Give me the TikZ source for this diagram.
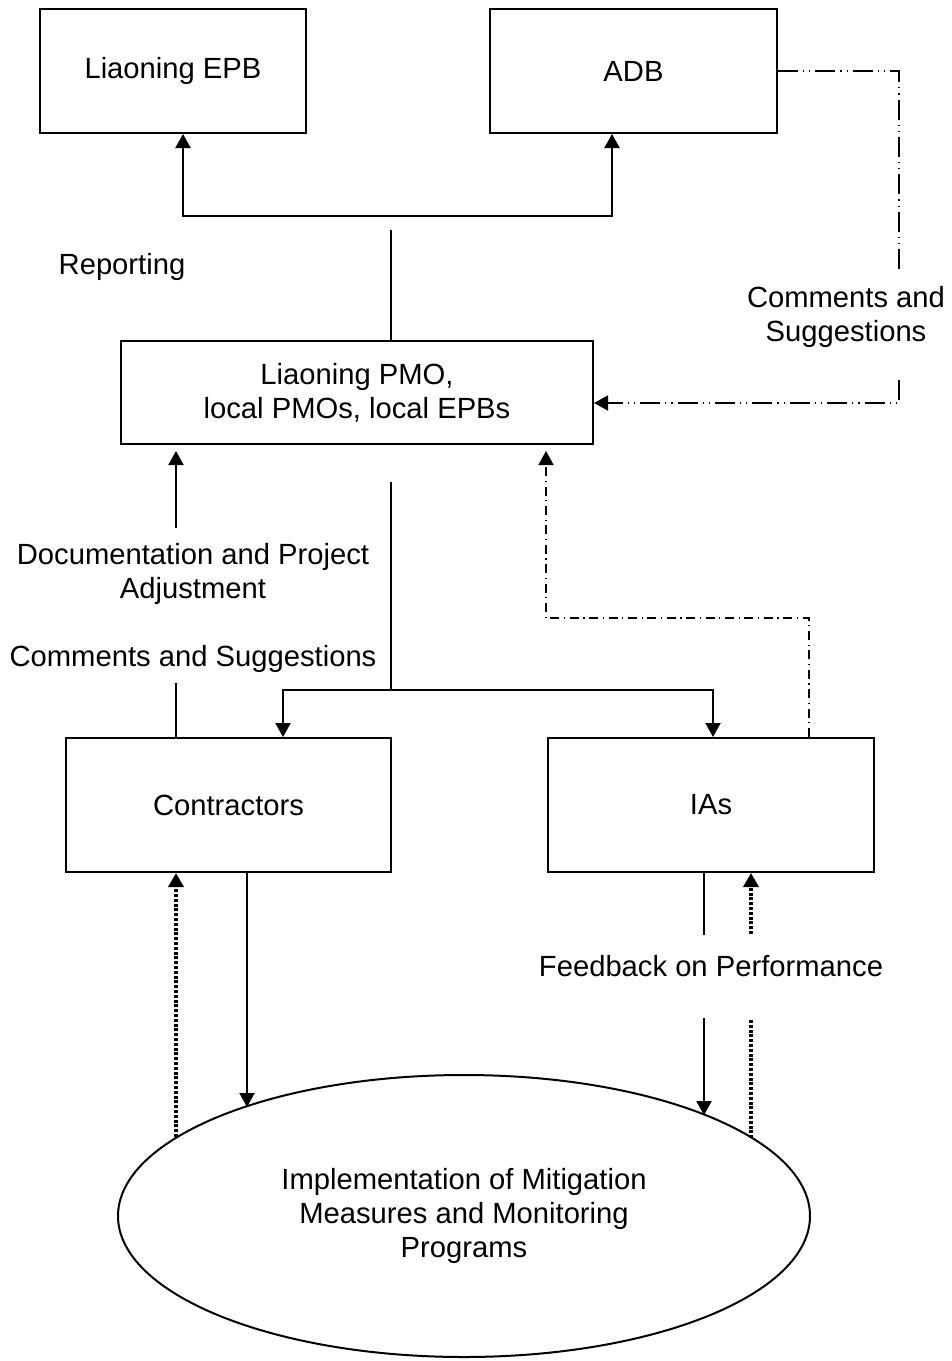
\documentclass[tikz,border=0pt]{standalone}
\usepackage{fontspec}
\setmainfont{Liberation Sans}
\usetikzlibrary{arrows.meta, shapes.geometric}

\begin{document}
\begin{tikzpicture}[x=0.5pt, y=-0.5pt, line width=1pt,
    every node/.style={font=\fontsize{14.6}{17}\selectfont, align=center, inner sep=0pt},
    box/.style={draw, minimum width=#1},
    arr/.style={-{Triangle[length=7pt, width=7.5pt]}},
    dashdotdot/.style={line width=0.8pt, dash pattern=on 10pt off 2.5pt on 0.6pt off 2.5pt on 0.6pt off 2.5pt},
    dashdotted/.style={line width=0.8pt, dash pattern=on 4.5pt off 2.3pt on 0.6pt off 2.3pt},
    thickdots/.style={line width=2.1pt, dash pattern=on 1.5pt off 0.9pt}]
    \useasboundingbox (0,0) rectangle (952,1361);

    % Boxes
    \node[box=133pt, minimum height=62pt] (epb) at (173,71) {Liaoning EPB};
    \node[box=143.5pt, minimum height=62pt] (adb) at (633.5,71) {ADB};
    \node[box=236pt, minimum height=51.5pt] (pmo) at (357,392.5) {Liaoning PMO,\\ local PMOs, local EPBs};
    \node[box=162.5pt, minimum height=67pt] (con) at (228.5,805) {Contractors};
    \node[box=163pt, minimum height=67pt] (ias) at (711,805) {IAs};
    \node[draw, ellipse, minimum width=346pt, minimum height=141pt] (imp) at (464,1216)
        {Implementation of Mitigation\\ Measures and Monitoring\\ Programs};

    % Labels
    \node (rep) at (122,267) {Reporting};
    \node (cs1) at (846,317) {Comments and\\ Suggestions};
    \node (doc) at (193,574) {Documentation and Project\\ Adjustment};
    \node (cs2) at (193,659) {Comments and Suggestions};
    \node (fb) at (711,966) {Feedback on Performance};

    % Reporting
    \coordinate (rl) at (183,216); \coordinate (rr) at (612,216); \coordinate (rt) at (391,230);
    \draw[{Triangle[length=7pt, width=7.5pt]}-{Triangle[length=7pt, width=7.5pt]}]
        (rl |- epb.south) -- (rl) -- (rr) -- (rr |- adb.south);
    \draw (rt) -- (rt |- pmo.north);

    % ADB comments
    \coordinate (ca) at (899,270); \coordinate (cb) at (899,380); \coordinate (cc) at (899,403);
    \draw[dashdotdot] (adb.east) -| (ca);
    \draw[dashdotdot, arr] (cb) -- (cc) -- (cc -| pmo.east);

    % PMO down to contractors and IAs
    \coordinate (pt) at (391,482); \coordinate (pj) at (391,690);
    \coordinate (pl) at (283,690); \coordinate (pr) at (713,690);
    \draw (pt) -- (pj);
    \draw[arr] (pj) -- (pl) -- (pl |- con.north);
    \draw[arr] (pj) -- (pr) -- (pr |- ias.north);

    % Documentation
    \coordinate (da) at (176,528); \coordinate (db) at (176,683);
    \draw[arr, shorten >=3pt] (da) -- (da |- pmo.south);
    \draw (db) -- (db |- con.north);

    % IAs feedback to PMO
    \coordinate (ia) at (809,618); \coordinate (ib) at (546,618);
    \draw[dashdotted, arr, shorten >=3pt] (ia |- ias.north) -- (ia) -- (ib) -- (ib |- pmo.south);

    % Contractors and implementation
    \coordinate (ka) at (176,1137); \coordinate (kb) at (247,1107);
    \draw[thickdots, arr] (ka) -- (ka |- con.south);
    \draw[arr] (kb |- con.south) -- (kb);

    % IAs and implementation
    \coordinate (fa) at (704,935); \coordinate (fb1) at (704,1018); \coordinate (fc) at (704,1115);
    \coordinate (ga) at (751,934); \coordinate (gb) at (751,1020); \coordinate (gc) at (751,1139);
    \draw (fa |- ias.south) -- (fa);
    \draw[arr] (fb1) -- (fc);
    \draw[thickdots, arr] (ga) -- (ga |- ias.south);
    \draw[thickdots] (gb) -- (gc);
\end{tikzpicture}
\end{document}
